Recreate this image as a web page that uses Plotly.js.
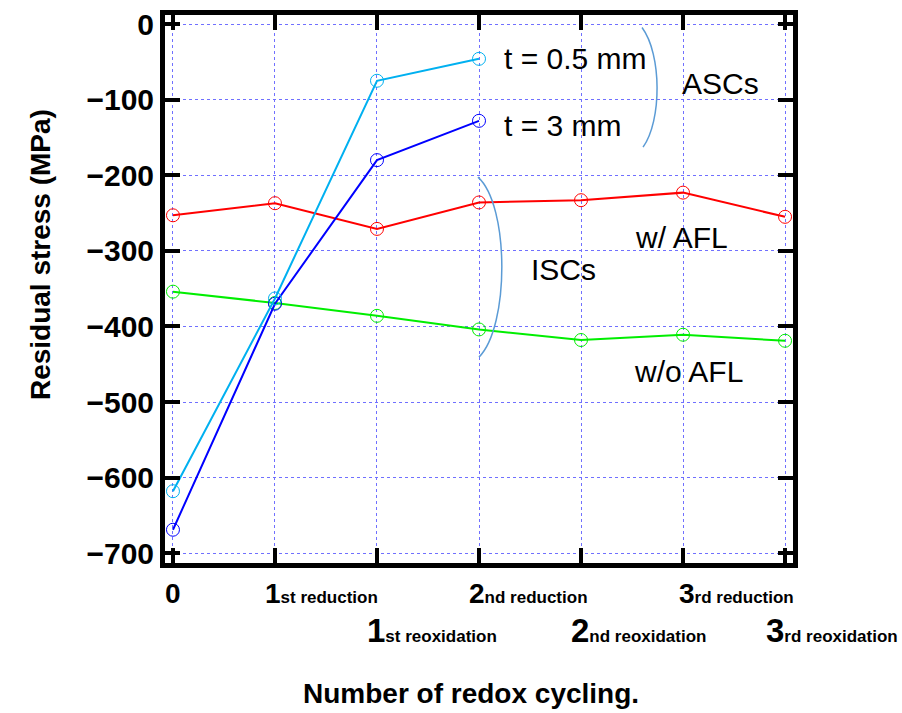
<!DOCTYPE html>
<html>
<head>
<meta charset="utf-8">
<script src="https://cdn.plot.ly/plotly-3.0.1.min.js"></script>
<style>html,body{margin:0;padding:0;background:#fff;}#chart{width:902px;height:713px;}</style>
</head>
<body>
<div id="chart"></div>
<script>
// ---- data ----
const cycleX = [0, 1, 2, 3, 4, 5, 6];
const ascX = [0, 1, 2, 3];
const ascThin = [-618, -363, -75, -46];      // t = 0.5 mm
const ascThick = [-669, -370, -180, -128];   // t = 3 mm
const iscWithAFL = [-253, -237, -271, -236, -233, -223, -255];
const iscWithoutAFL = [-354, -369, -386, -404, -418, -411, -419];
const tickNums = ['0', '1', '1', '2', '2', '3', '3'];
const tickSuffix = ['', 'st reduction', 'st reoxidation', 'nd reduction', 'nd reoxidation', 'rd reduction', 'rd reoxidation'];
const tickRow = [0, 0, 1, 0, 1, 0, 1];
const yTicks = [0, -100, -200, -300, -400, -500, -600, -700];

// ---- traces ----
function series(x, y, color) {
  return {
    x: x, y: y, type: 'scatter', mode: 'lines+markers',
    line: {color: color, width: 2},
    marker: {symbol: 'circle-open', size: 13, color: color, line: {color: color, width: 1}},
    showlegend: false, hoverinfo: 'x+y'
  };
}
const traces = [
  series(cycleX, iscWithAFL, '#ff0000'),
  series(cycleX, iscWithoutAFL, '#00ee00'),
  series(ascX, ascThick, '#0000ff'),
  series(ascX, ascThin, '#00b0f0')
];

const fontMain = 'Liberation Sans, Arial, Helvetica, sans-serif';

// styling for the two-row tick labels
const labelShift = [0, -12, -12, -12, -12, -6, -21];
const rowY = [-0.023, -0.086];
const rowDigitSize = [28, 33];

const annotations = [];
cycleX.forEach(function (xv, i) {
  const row = tickRow[i];
  const num = '<span style="font-size:' + rowDigitSize[row] + 'px">' + tickNums[i] + '</span>';
  const suf = tickSuffix[i] ? '<span style="font-size:17px">' + tickSuffix[i] + '</span>' : '';
  annotations.push({
    x: xv, xref: 'x', y: rowY[row], yref: 'paper',
    text: '<b>' + num + suf + '</b>', showarrow: false,
    xanchor: i === 0 ? 'center' : 'left', xshift: labelShift[i], yanchor: 'top',
    font: {family: fontMain, size: 17, color: '#000'}
  });
});
function label(text, x, y) {
  annotations.push({x: x, y: y, xref: 'x', yref: 'y', text: text, showarrow: false,
    xanchor: 'left', yanchor: 'middle', font: {family: fontMain, size: 30, color: '#000'}});
}
label('t = 0.5 mm', 3.225, -46);
label('t = 3 mm', 3.225, -134);
label('ASCs', 4.97, -78);
label('w/ AFL', 4.51, -282);
label('ISCs', 3.49, -325);
label('w/o AFL', 4.50, -460);

// axis titles
annotations.push({x: -0.199, y: 0.562, xref: 'paper', yref: 'paper', text: 'Residual stress (MPa)',
  textangle: -90, showarrow: false, xanchor: 'center', yanchor: 'middle',
  font: {family: fontMain, size: 28, color: '#000', weight: 'bold'}});
annotations.push({x: 0.487, y: -0.239, xref: 'paper', yref: 'paper', text: 'Number of redox cycling.',
  showarrow: false, xanchor: 'center', yanchor: 'middle',
  font: {family: fontMain, size: 28, color: '#000', weight: 'bold'}});

const shapes = [
  {type: 'path', xref: 'x', yref: 'y', path: 'M 4.598,-4.6 C 4.793,-40 4.793,-128 4.608,-162.8',
   line: {color: '#5b9bd5', width: 1.5}},
  {type: 'path', xref: 'x', yref: 'y', path: 'M 2.99,-202.5 C 3.30,-240 3.30,-400 3.0,-440.6',
   line: {color: '#5b9bd5', width: 1.5}}
];

const gridStyle = {showgrid: true, gridcolor: '#7070ff', gridwidth: 1, griddash: 'dot'};

const layout = {
  width: 902, height: 713,
  margin: {l: 165, r: 109, t: 15, b: 150},
  paper_bgcolor: '#fff', plot_bgcolor: '#fff',
  font: {family: fontMain, color: '#000'},
  xaxis: Object.assign({
    range: [-0.078, 6.078], tickvals: cycleX, showticklabels: false,
    ticks: 'inside', ticklen: 15, tickwidth: 4, tickcolor: '#000',
    showline: true, linewidth: 5, linecolor: '#000', mirror: 'allticks',
    zeroline: false
  }, gridStyle),
  yaxis: Object.assign({
    range: [-713, 12], tickvals: yTicks,
    ticks: 'inside', ticklen: 15, tickwidth: 4, tickcolor: '#000',
    showline: true, linewidth: 5, linecolor: '#000', mirror: 'allticks',
    zeroline: false,
    tickfont: {size: 30, family: fontMain, weight: 'bold'}
  }, gridStyle),
  annotations: annotations,
  shapes: shapes
};

Plotly.newPlot('chart', traces, layout, {displayModeBar: false, staticPlot: true});
</script>
</body>
</html>
